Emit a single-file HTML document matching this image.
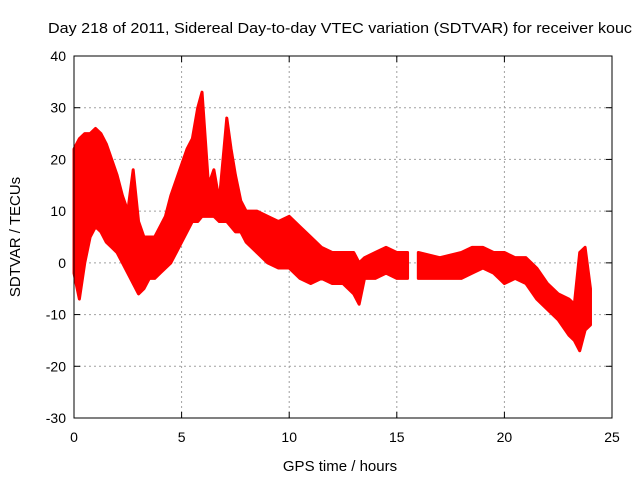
<!DOCTYPE html>
<html><head><meta charset="utf-8"><style>
body{margin:0;background:#fff;}
svg{display:block;font-family:"Liberation Sans",sans-serif;}
</style></head><body>
<svg id="chart" width="640" height="480">
<text x="48" y="33" font-size="15" textLength="584" lengthAdjust="spacingAndGlyphs">Day 218 of 2011, Sidereal Day-to-day VTEC variation (SDTVAR) for receiver kouc</text>
<text x="340" y="471" font-size="15" text-anchor="middle">GPS time / hours</text>
<text transform="translate(20,237) rotate(-90)" font-size="15" text-anchor="middle">SDTVAR / TECUs</text>
<g id="grid"></g>
<g id="series"></g>
<rect x="74" y="56" width="538" height="362" fill="none" stroke="#000"/>
</svg>
<script>
const xTicks=[0,5,10,15,20,25];
const yTicks=[-30,-20,-10,0,10,20,30,40];
const times=[0,0.25,0.5,0.75,1,1.25,1.5,1.75,2,2.25,2.5,2.75,3,3.25,3.5,3.75,4,4.25,4.5,4.75,5,5.25,5.5,5.75,5.95,6.25,6.5,6.75,7.1,7.3,7.5,7.75,8,8.5,9,9.5,10,10.5,11,11.5,12,12.5,13,13.25,13.5,14,14.5,15,15.5,null,16,17,18,18.5,19,19.5,20,20.5,21,21.5,22,22.5,23,23.25,23.5,23.75,24];
const upper=[22,24,25,25,26,25,23,20,17,13,10,18,8,5,5,5,7,9,13,16,19,22,24,30,33,15,18,12,28,22,17,12,10,10,9,8,9,7,5,3,2,2,2,0,1,2,3,2,2,null,2,1,2,3,3,2,2,1,1,-1,-4,-6,-7,-8,2,3,-5];
const lower=[-2,-7,0,5,7,6,4,3,2,0,-2,-4,-6,-5,-3,-3,-2,-1,0,2,4,6,8,8,9,9,9,8,8,7,6,6,4,2,0,-1,-1,-3,-4,-3,-4,-4,-6,-8,-3,-3,-2,-3,-3,null,-3,-3,-3,-2,-1,-2,-4,-3,-4,-7,-9,-11,-14,-15,-17,-13,-12];
const X0=74,X1=612,Y0=418,Y1=56,xmin=0,xmax=25,ymin=-30,ymax=40;
const sx=v=>X0+(v-xmin)/(xmax-xmin)*(X1-X0);
const sy=v=>Y0-(v-ymin)/(ymax-ymin)*(Y0-Y1);
const NS="http://www.w3.org/2000/svg";
const grid=document.getElementById('grid'),series=document.getElementById('series');
function mk(tag,attrs,parent){const e=document.createElementNS(NS,tag);for(const k in attrs)e.setAttribute(k,attrs[k]);parent.appendChild(e);return e;}
xTicks.forEach(t=>{
 const x=sx(t);
 if(t>xmin&&t<xmax){const g=mk('line',{x1:x,x2:x,y1:Y0,y2:Y1,stroke:'#a0a0a0','stroke-dasharray':'2,3'},grid);
 
 }
 mk('line',{x1:x,x2:x,y1:Y0,y2:Y0-6,stroke:'#000'},grid);
 mk('line',{x1:x,x2:x,y1:Y1,y2:Y1+6,stroke:'#000'},grid);
 const l=mk('text',{x:x,y:Y0+24,'font-size':14,'text-anchor':'middle'},grid);l.textContent=t;
 
 
});
yTicks.forEach(t=>{
 const y=sy(t);
 if(t>ymin&&t<ymax){const g=mk('line',{x1:X0,x2:X1,y1:y,y2:y,stroke:'#a0a0a0','stroke-dasharray':'2,3'},grid);
 
 }
 mk('line',{x1:X0,x2:X0+6,y1:y,y2:y,stroke:'#000'},grid);
 mk('line',{x1:X1,x2:X1-6,y1:y,y2:y,stroke:'#000'},grid);
 const l=mk('text',{x:X0-8,y:y+5,'font-size':14,'text-anchor':'end'},grid);l.textContent=t;
 
 
});
let seg=[];const segs=[];
times.forEach((t,i)=>{if(t===null){if(seg.length)segs.push(seg);seg=[];}else seg.push(i);});
if(seg.length)segs.push(seg);
segs.forEach(s=>{
 const pts=s.map(i=>sx(times[i])+','+sy(upper[i])).concat(s.slice().reverse().map(i=>sx(times[i])+','+sy(lower[i])));
 const p=mk('polygon',{points:pts.join(' '),fill:'#ff0000',stroke:'#ff0000','stroke-width':3,'stroke-linejoin':'round'},series);
 
 
});
</script>
</body></html>
